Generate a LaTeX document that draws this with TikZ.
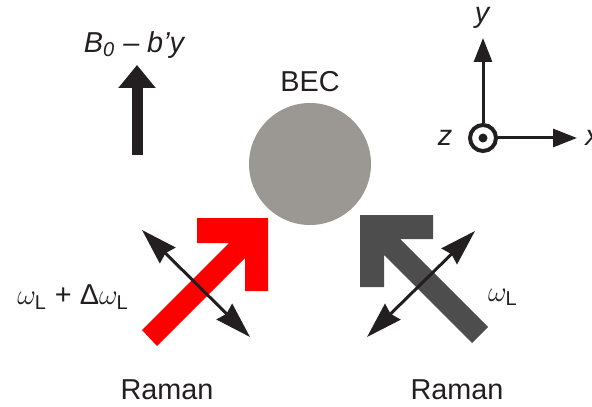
\documentclass[tikz,border=0pt]{standalone}
\usepackage{fontspec}
\setmainfont{Liberation Sans}
\setsansfont{Liberation Sans}
\usepackage{amsmath}
\usetikzlibrary{arrows.meta}

\definecolor{ink}{HTML}{231F20}
\definecolor{becgray}{HTML}{9B9792}
\definecolor{laserred}{HTML}{FF0000}
\definecolor{lasergray}{HTML}{4D4D4D}

\begin{document}
\begin{tikzpicture}[
  x=0.5pt, y=-0.5pt,
  label/.style = {font=\Large, text=ink, inner sep=1pt},
  pol/.style = {
    draw=ink, line width=1.5pt,
    {Stealth[length=18pt,width=11pt,inset=1.5pt]}-{Stealth[length=18pt,width=11pt,inset=1.5pt]}
  },
  axis/.style = {draw=ink, line width=1.5pt, -{Triangle[length=12pt,width=9pt]}}
]
\useasboundingbox (0,0) rectangle (592,406);

% condensate
\fill[becgray] (310,164) circle (61);
\node[label] (bec) at (310,82) {BEC};

% field gradient
\coordinate (gradfoot) at (137,155);
\coordinate (gradtip) at (137,65);
\draw[ink, line width=5.5pt, -{Triangle[length=11.5pt,width=18pt]}] (gradfoot) -- (gradtip);
\node[label] (grad) at (134,45) {\itshape B\textsubscript{0} \textendash\ b’y};

% axes
\node[circle, draw=ink, line width=2pt, minimum size=13pt, inner sep=0pt] (origin) at (483,138) {};
\fill[ink] (origin.center) circle (4.5);
\coordinate (ytip) at (483,38);
\coordinate (xtip) at (577,138);
\draw[axis] (origin.north) -- (ytip);
\draw[axis] (origin.east) -- (xtip);
\node[label] (ylab) at (482,18) {\itshape y};
\node[label] (zlab) at (445,138) {\itshape z};
\node[label, anchor=west] (xlab) at (583,138) {\itshape x};

% Raman beams
\fill[laserred] (268,218) -- (268,291) -- (245,291) -- (245,258) -- (157,346)
  -- (142,330) -- (229,243) -- (197,243) -- (197,218) -- cycle;
\fill[lasergray] (360,215) -- (433,215) -- (433,239) -- (400,239) -- (488,327)
  -- (472,343) -- (384,255) -- (384,287) -- (360,287) -- cycle;

% polarisations
\coordinate (polla) at (142,230);
\coordinate (pollb) at (250,337);
\coordinate (polra) at (367,337);
\coordinate (polrb) at (475,231);
\draw[pol] (polla) -- (pollb);
\draw[pol] (polra) -- (polrb);

\node[label] (freql) at (73,297) {$\omega_{\text{L}}$ + Δ$\omega_{\text{L}}$};
\node[label] (freqr) at (503,297) {$\omega_{\text{L}}$};
\node[label] (ramanl) at (167,390) {Raman};
\node[label] (ramanr) at (457,390) {Raman};

\end{tikzpicture}
\end{document}
